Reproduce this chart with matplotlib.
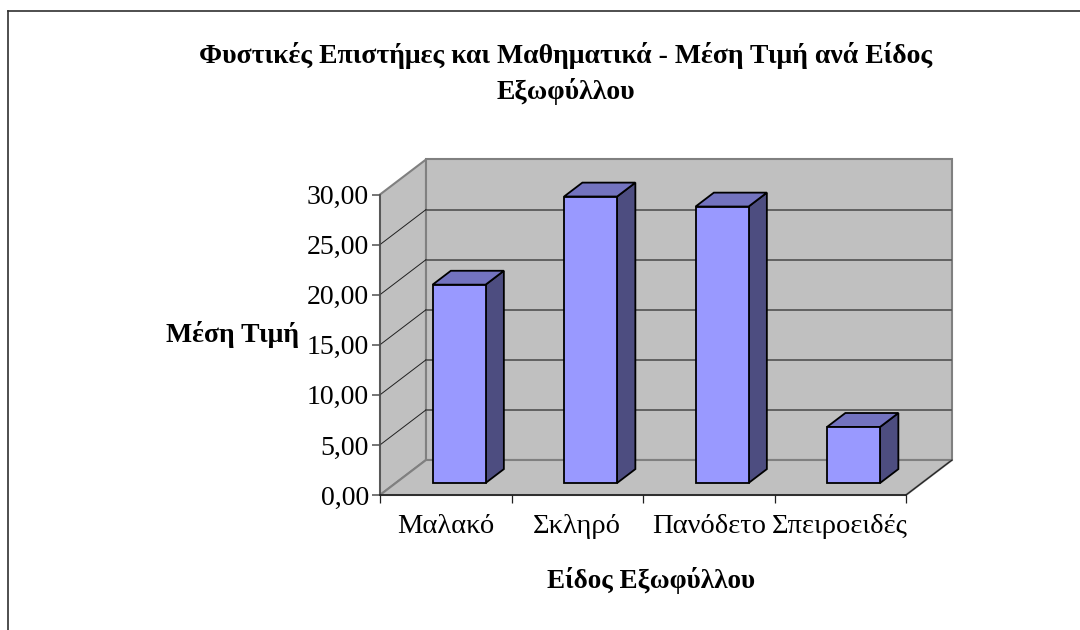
import matplotlib
matplotlib.use('Agg')
import matplotlib.pyplot as plt
from matplotlib.patches import Polygon
from matplotlib.lines import Line2D

plt.rcParams['font.family'] = ['Liberation Serif', 'DejaVu Serif']

# Data
categories = ['Μαλακό', 'Σκληρό', 'Πανόδετο', 'Σπειροειδές']
values = [19.8, 28.6, 27.6, 5.6]
y_ticks = [0, 5, 10, 15, 20, 25, 30]
y_tick_labels = ['0,00', '5,00', '10,00', '15,00', '20,00', '25,00', '30,00']

title = 'Φυστικές Επιστήμες και Μαθηματικά - Μέση Τιμή ανά Είδος\nΕξωφύλλου'
x_title = 'Είδος Εξωφύλλου'
y_title = 'Μέση Τιμή'

W, H = 1080, 630
# Pixel box of the plot, including the depth of the 3D look
X0, X1 = 380, 906
Y0, Y30 = 495, 194.5
DEPTH_X, DEPTH_Y = 46, 35

n = len(categories)
units_x = (X1 - X0) / n       # px per category
units_y = (Y0 - Y30) / 30     # px per value unit
dz_x = DEPTH_X / units_x
dz_y = DEPTH_Y / units_y


def proj(x, y, z):
    # z goes from 0 (front) to 1 (back wall)
    return (x + z * dz_x, y + z * dz_y)


fig = plt.figure(figsize=(W / 100, H / 100), dpi=100)
ax = fig.add_axes([X0 / W, 1 - Y0 / H, (X1 + DEPTH_X - X0) / W, (Y0 - Y30 + DEPTH_Y) / H])
ax.set_xlim(0, n + dz_x)
ax.set_ylim(0, 30 + dz_y)
ax.patch.set_visible(False)

wall = '#C0C0C0'
wall_edge = '#808080'
grid_back = '#595959'

# Walls and floor
ax.add_patch(Polygon([proj(0, 0, 0), proj(0, 0, 1), proj(0, 30, 1), proj(0, 30, 0)],
                     facecolor=wall, edgecolor=wall_edge, lw=1.5, zorder=1, clip_on=False))
ax.add_patch(Polygon([proj(0, 0, 1), proj(n, 0, 1), proj(n, 30, 1), proj(0, 30, 1)],
                     facecolor=wall, edgecolor=wall_edge, lw=1.5, zorder=1, clip_on=False))
ax.add_patch(Polygon([proj(0, 0, 0), proj(n, 0, 0), proj(n, 0, 1), proj(0, 0, 1)],
                     facecolor=wall, edgecolor=wall_edge, lw=1.5, zorder=1, clip_on=False))
ax.plot(*zip(proj(n, 0, 0), proj(n, 0, 1)), color='#202020', lw=0.8, zorder=2, clip_on=False)

# Gridlines on back wall and left wall
for t in y_ticks[1:-1]:
    ax.plot(*zip(proj(0, t, 1), proj(n, t, 1)), color=grid_back, lw=1.3, zorder=2)
    ax.plot(*zip(proj(0, t, 0), proj(0, t, 1)), color='#202020', lw=0.7, zorder=2)

# Bars as three faces each
bar_left = 0.28
bar_width = 0.403
z_a, z_b = 0.343, 0.74
for i, v in enumerate(values):
    xa = i + bar_left
    xb = xa + bar_width
    front = [proj(xa, 0, z_a), proj(xb, 0, z_a), proj(xb, v, z_a), proj(xa, v, z_a)]
    top = [proj(xa, v, z_a), proj(xb, v, z_a), proj(xb, v, z_b), proj(xa, v, z_b)]
    side = [proj(xb, 0, z_a), proj(xb, 0, z_b), proj(xb, v, z_b), proj(xb, v, z_a)]
    ax.add_patch(Polygon(side, facecolor='#4D4D80', edgecolor='black', lw=1.3, zorder=3, joinstyle='miter'))
    ax.add_patch(Polygon(top, facecolor='#7373BF', edgecolor='black', lw=1.3, zorder=3, joinstyle='miter'))
    ax.add_patch(Polygon(front, facecolor='#9999FF', edgecolor='black', lw=1.3, zorder=4, joinstyle='miter'))

# Axes
for s in ['top', 'right']:
    ax.spines[s].set_visible(False)
ax.spines['left'].set_bounds(0, 30)
ax.spines['bottom'].set_bounds(0, n)
ax.spines['left'].set_color('#505050')
ax.spines['left'].set_linewidth(1.2)
ax.spines['bottom'].set_color('#202020')
ax.spines['bottom'].set_linewidth(1.2)
ax.spines['left'].set_zorder(5)
ax.spines['bottom'].set_zorder(5)

ax.set_yticks(y_ticks)
ax.set_yticklabels(y_tick_labels, fontsize=20)
ax.tick_params(axis='y', length=6, width=1.1, color='#505050', pad=2)

ax.set_xticks(range(n + 1))
ax.set_xticklabels([])
ax.set_xticks([i + 0.5 for i in range(n)], minor=True)
ax.set_xticklabels(categories, minor=True, fontsize=20.5, va='baseline')
ax.tick_params(axis='x', which='major', length=6, width=0.9, color='#202020')
ax.tick_params(axis='x', which='minor', length=0, pad=27.5)

# Titles placed in figure pixels
fig.text(566 / W, 1 - 73.5 / H, title, ha='center', va='center', fontsize=20,
         fontweight='bold', linespacing=1.42)
fig.text(651 / W, 1 - 580 / H, x_title, ha='center', va='center', fontsize=19.5, fontweight='bold')
fig.text(233 / W, 1 - 335 / H, y_title, ha='center', va='center', fontsize=20, fontweight='bold')

# Outer frame, open on the right and at the bottom
frame = '#303030'
fig.add_artist(Line2D([7.5 / W, 7.5 / W], [0, 1 - 11 / H], color=frame, lw=1.2))
fig.add_artist(Line2D([7.5 / W, 1], [1 - 11 / H, 1 - 11 / H], color=frame, lw=1.2))

fig.savefig('out.png', dpi=100, facecolor='white')
